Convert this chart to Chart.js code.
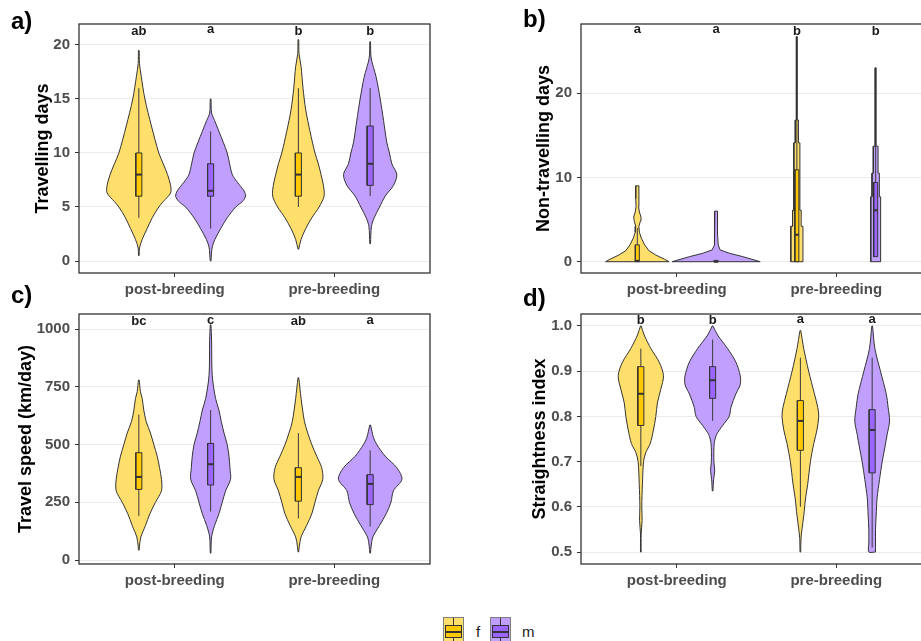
<!DOCTYPE html>
<html>
<head>
<meta charset="utf-8">
<script src="https://cdn.jsdelivr.net/npm/chart.js@4.4.1/dist/chart.umd.min.js"></script>
<style>
  html, body { margin: 0; padding: 0; background: #fff; width: 921px; height: 641px; overflow: hidden; }
  body { position: relative; font-family: "Liberation Sans", Arial, sans-serif; }
  canvas { position: absolute; }
  .plab { position: absolute; font-weight: bold; font-size: 24px; line-height: 24px; color: #000; }
  .key { position: absolute; box-sizing: border-box; width: 21px; height: 26px; border: 1px solid #7f7f7f; }
  .key .vl { position: absolute; left: 9px; top: 0; width: 1px; height: 100%; background: #333; }
  .key .bx { position: absolute; left: 1px; top: 7px; width: 17px; height: 13px; box-sizing: border-box; border: 1px solid #333; }
  .key .md { position: absolute; left: 1px; top: 13px; width: 17px; height: 2px; background: #333; }
  .ktxt { position: absolute; font-size: 15px; color: #1a1a1a; line-height: 16px; }
</style>
</head>
<body>
<canvas id="ca" width="440" height="300" style="left:0px;top:0px"></canvas>
<canvas id="cb" width="480" height="300" style="left:460px;top:0px"></canvas>
<canvas id="cc" width="440" height="310" style="left:0px;top:290px"></canvas>
<canvas id="cd" width="480" height="310" style="left:460px;top:290px"></canvas>
<div class="plab" style="left:11px;top:9px">a)</div>
<div class="plab" style="left:523px;top:7px">b)</div>
<div class="plab" style="left:11px;top:283px">c)</div>
<div class="plab" style="left:523px;top:286px">d)</div>
<div class="key" style="left:443px;top:617px;background:#FFDF6B"><div class="vl"></div><div class="bx" style="background:#FFC800"></div><div class="md"></div></div>
<div class="ktxt" style="left:476px;top:624px">f</div>
<div class="key" style="left:490px;top:617px;background:#C09FFF"><div class="vl"></div><div class="bx" style="background:#9A66FF"></div><div class="md"></div></div>
<div class="ktxt" style="left:522px;top:624px">m</div>
<script>
// ---------- categories ----------
const groups = ['post-breeding', 'pre-breeding'];
const sexes = ['f', 'm', 'f', 'm'];

// ---------- panel a: Travelling days ----------
const a_fPost_y = [0.5, 1.2, 2, 3, 4, 5, 5.5, 6.3, 7, 8, 9, 10, 12.5, 15, 17.1, 18.3, 19.5];
const a_fPost_w = [0.002, 0.004, 0.021, 0.052, 0.084, 0.125, 0.153, 0.199, 0.199, 0.18, 0.153, 0.125, 0.079, 0.038, 0.015, 0.004, 0.002];
const a_mPost_y = [0, 1.3, 2, 3, 4, 5, 5.5, 6, 6.5, 7.3, 8, 9, 10, 11, 12, 13, 13.7, 15];
const a_mPost_w = [0.002, 0.010, 0.027, 0.063, 0.104, 0.157, 0.199, 0.219, 0.209, 0.167, 0.136, 0.119, 0.104, 0.079, 0.052, 0.025, 0.006, 0.002];
const a_fPre_y = [1.1, 2, 3, 4, 5, 6, 7, 8, 9, 10, 12, 14, 16, 18, 19.2, 20.5];
const a_fPre_w = [0.002, 0.017, 0.046, 0.084, 0.130, 0.161, 0.157, 0.142, 0.125, 0.104, 0.073, 0.046, 0.029, 0.017, 0.004, 0.002];
const a_mPre_y = [1.6, 3.2, 4, 5, 6, 7, 8, 9, 10, 11, 13, 15, 17, 18.8, 20.3];
const a_mPre_w = [0.002, 0.008, 0.025, 0.059, 0.094, 0.146, 0.167, 0.136, 0.121, 0.104, 0.084, 0.063, 0.038, 0.006, 0.002];
// box stats: [lower whisker, q1, median, q3, upper whisker]
const a_box = [[4, 6, 8, 10, 16], [3, 6, 6.5, 9, 12], [5, 6, 8, 10, 16], [6, 7, 9, 12.5, 16]];
const a_letters = ['ab', 'a', 'b', 'b'];
const a_letterY = [21.23, 21.45, 21.23, 21.23];
const a_ticks = [0, 5, 10, 15, 20];

// ---------- panel b: Non-travelling days ----------
const b_fPost_y = [0, 0.3, 0.8, 1.3, 2, 2.8, 3.5, 4.2, 4.8, 5.3, 5.9, 6.5, 7.5, 9];
const b_fPost_w = [0.199, 0.17, 0.115, 0.073, 0.046, 0.025, 0.013, 0.010, 0.019, 0.023, 0.013, 0.008, 0.010, 0.010];
const b_mPost_y = [0, 0.2, 0.6, 1.0, 1.4, 2, 3, 4, 5, 6];
const b_mPost_w = [0.276, 0.24, 0.167, 0.084, 0.025, 0.013, 0.010, 0.008, 0.010, 0.008];
const b_fPre_y = [0, 4.2, 4.2, 6.1, 6.1, 14.1, 14.1, 16.8, 16.8, 26.7];
const b_fPre_w = [0.038, 0.038, 0.027, 0.027, 0.019, 0.019, 0.010, 0.010, 0.003, 0.003];
const b_mPre_y = [0, 7.7, 7.7, 10.5, 10.5, 13.7, 13.7, 23];
const b_mPre_w = [0.031, 0.031, 0.023, 0.023, 0.015, 0.015, 0.003, 0.003];
const b_box = [[0, 0, 0.1, 2, 4], [0, 0, 0, 0.15, 0], [0, 0, 3.2, 10.9, 17], [0.6, 0.6, 6.1, 9.4, 14]];
const b_letters = ['a', 'a', 'b', 'b'];
const b_letterY = [27.6, 27.6, 27.3, 27.3];
const b_ticks = [0, 10, 20];

// ---------- panel c: Travel speed ----------
const c_fPost_y = [43, 60, 100, 150, 200, 250, 300, 350, 400, 450, 500, 550, 600, 650, 700, 730, 780];
const c_fPost_w = [0.002, 0.004, 0.013, 0.042, 0.069, 0.104, 0.142, 0.142, 0.130, 0.115, 0.094, 0.073, 0.046, 0.031, 0.021, 0.010, 0.002];
const c_mPost_y = [30, 100, 150, 200, 250, 300, 350, 400, 450, 500, 550, 600, 650, 700, 800, 950, 1019];
const c_mPost_w = [0.002, 0.006, 0.025, 0.052, 0.073, 0.094, 0.125, 0.121, 0.115, 0.104, 0.084, 0.067, 0.052, 0.031, 0.010, 0.006, 0.002];
const c_fPre_y = [35, 60, 100, 150, 200, 250, 300, 350, 400, 450, 500, 550, 600, 700, 790];
const c_fPre_w = [0.002, 0.006, 0.017, 0.052, 0.084, 0.104, 0.125, 0.153, 0.146, 0.115, 0.084, 0.059, 0.038, 0.017, 0.002];
const c_mPre_y = [30, 60, 100, 150, 200, 250, 300, 350, 400, 450, 500, 530, 585];
const c_mPre_w = [0.002, 0.006, 0.017, 0.059, 0.100, 0.130, 0.146, 0.199, 0.167, 0.094, 0.042, 0.021, 0.002];
const c_box = [[190, 306, 360, 465, 630], [210, 325, 415, 505, 650], [180, 255, 360, 400, 550], [145, 240, 330, 370, 475]];
const c_letters = ['bc', 'c', 'ab', 'a'];
const c_letterY = [1033, 1040, 1033, 1040];
const c_ticks = [0, 250, 500, 750, 1000];

// ---------- panel d: Straightness index ----------
const d_fPost_y = [0.5, 0.54, 0.57, 0.60, 0.65, 0.70, 0.72, 0.74, 0.77, 0.80, 0.83, 0.86, 0.89, 0.92, 0.95, 0.98, 1.0];
const d_fPost_w = [0.002, 0.002, 0.008, 0.006, 0.010, 0.017, 0.031, 0.059, 0.079, 0.094, 0.104, 0.125, 0.142, 0.115, 0.063, 0.021, 0.002];
const d_mPost_y = [0.635, 0.66, 0.68, 0.70, 0.74, 0.76, 0.78, 0.80, 0.82, 0.85, 0.87, 0.89, 0.92, 0.95, 0.98, 1.0];
const d_mPost_w = [0.002, 0.006, 0.013, 0.008, 0.010, 0.025, 0.063, 0.104, 0.115, 0.146, 0.173, 0.173, 0.146, 0.094, 0.031, 0.002];
const d_fPre_y = [0.5, 0.53, 0.55, 0.58, 0.62, 0.65, 0.70, 0.74, 0.77, 0.80, 0.82, 0.85, 0.90, 0.95, 0.99];
const d_fPre_w = [0.002, 0.004, 0.010, 0.021, 0.033, 0.046, 0.063, 0.084, 0.104, 0.115, 0.109, 0.088, 0.052, 0.021, 0.002];
const d_mPre_y = [0.5, 0.52, 0.55, 0.58, 0.62, 0.66, 0.70, 0.73, 0.76, 0.79, 0.82, 0.85, 0.90, 0.95, 1.0];
const d_mPre_w = [0.021, 0.021, 0.021, 0.025, 0.031, 0.046, 0.063, 0.079, 0.094, 0.109, 0.100, 0.088, 0.052, 0.017, 0.002];
const d_box = [[0.69, 0.78, 0.85, 0.91, 0.95], [0.79, 0.84, 0.88, 0.91, 0.97], [0.6, 0.725, 0.79, 0.835, 0.93], [0.51, 0.675, 0.77, 0.815, 0.93]];
const d_letters = ['b', 'b', 'a', 'a'];
const d_letterY = [1.0117, 1.0117, 1.0148, 1.0148];
const d_ticks = [0.5, 0.6, 0.7, 0.8, 0.9, 1.0];

// ---------- styles ----------
const FONT = '"Liberation Sans", Arial, sans-serif';
Chart.defaults.font.family = FONT;
const violinFill = { f: '#FFDF6B', m: '#C09FFF' };
const boxFill = { f: '#FFC800', m: '#9A66FF' };
const OUTLINE = '#333333';

function polygon(cx, ys, ws) {
  const pts = [];
  for (let i = 0; i < ys.length; i++) pts.push({ x: cx + ws[i], y: ys[i] });
  for (let i = ys.length - 1; i >= 0; i--) pts.push({ x: cx - ws[i], y: ys[i] });
  pts.push({ x: pts[0].x, y: pts[0].y });
  return pts;
}

function buildPanel(cfg) {
  const cxs = [1 - cfg.off, 1 + cfg.off, 2 - cfg.off, 2 + cfg.off];
  const datasets = [];
  cfg.violins.forEach((v, i) => {
    const s = sexes[i], cx = cxs[i], bw = cfg.boxHW;
    const [lo, q1, med, q3, hi] = cfg.boxes[i];
    datasets.push({ data: polygon(cx, v[0], v[1]), showLine: true, fill: 'shape', tension: cfg.tension,
      backgroundColor: violinFill[s], borderColor: OUTLINE, borderWidth: 1, pointRadius: 0, pointHoverRadius: 0, order: 3 });
    datasets.push({ data: [{ x: cx, y: lo }, { x: cx, y: hi }], showLine: true, fill: false, tension: 0,
      borderColor: '#3a3a3a', borderWidth: 1, pointRadius: 0, pointHoverRadius: 0, order: 2 });
    datasets.push({ data: [{ x: cx - bw, y: q1 }, { x: cx + bw, y: q1 }, { x: cx + bw, y: q3 }, { x: cx - bw, y: q3 }, { x: cx - bw, y: q1 }],
      showLine: true, fill: 'shape', tension: 0, backgroundColor: boxFill[s], borderColor: OUTLINE, borderWidth: 1,
      pointRadius: 0, pointHoverRadius: 0, order: 1 });
    datasets.push({ data: [{ x: cx - bw, y: med }, { x: cx + bw, y: med }], showLine: true, fill: false, tension: 0,
      borderColor: OUTLINE, borderWidth: 2, pointRadius: 0, pointHoverRadius: 0, order: 0 });
  });

  const overlay = {
    id: 'overlay_' + cfg.id,
    afterDatasetsDraw(chart) {
      const { ctx, chartArea: a, scales: { x, y } } = chart;
      ctx.save();
      ctx.strokeStyle = OUTLINE;
      ctx.lineWidth = 1.3;
      ctx.strokeRect(a.left, a.top, a.right - a.left, a.bottom - a.top);
      ctx.font = 'bold 13px ' + FONT;
      ctx.fillStyle = '#1a1a1a';
      ctx.textAlign = 'center';
      ctx.textBaseline = 'middle';
      cfg.letters.forEach((t, i) => ctx.fillText(t, x.getPixelForValue(cxs[i]), y.getPixelForValue(cfg.letterY[i])));
      ctx.restore();
    }
  };

  const tickFont = { size: 15, weight: 'bold', family: FONT };
  new Chart(document.getElementById(cfg.id), {
    type: 'scatter',
    data: { datasets },
    plugins: [overlay],
    options: {
      responsive: false, animation: false, devicePixelRatio: 1,
      events: [],
      layout: { padding: cfg.pad },
      plugins: { legend: { display: false }, tooltip: { enabled: false } },
      scales: {
        x: {
          type: 'linear', min: 0.4, max: 2.6,
          afterBuildTicks: (s) => { s.ticks = [{ value: 1 }, { value: 2 }]; },
          afterFit: (s) => { s.height = cfg.xH; },
          ticks: { callback: (v) => groups[Math.round(v) - 1], font: tickFont, color: '#4D4D4D', padding: 4, maxRotation: 0, autoSkip: false },
          grid: { display: true, drawOnChartArea: false, drawTicks: true, tickLength: 4, tickColor: OUTLINE },
          border: { display: false }
        },
        y: {
          type: 'linear', min: cfg.yMin, max: cfg.yMax,
          afterBuildTicks: (s) => { s.ticks = cfg.yTicks.map(v => ({ value: v })); },
          afterFit: (s) => { s.width = cfg.yW; },
          ticks: { callback: cfg.fmt, font: tickFont, color: '#4D4D4D', padding: 5, autoSkip: false },
          grid: { color: '#EBEBEB', lineWidth: 1, tickLength: 4, tickColor: OUTLINE },
          border: { display: false },
          title: { display: true, text: cfg.yTitle, color: '#000', font: { size: 18, weight: 'bold', family: FONT }, padding: 0 }
        }
      }
    }
  });
}

const intFmt = (v) => String(v);
buildPanel({ id: 'ca', yTitle: 'Travelling days', yMin: -1.11, yMax: 21.94, yTicks: a_ticks, fmt: intFmt,
  off: 0.225, boxHW: 0.019, tension: 0.3,
  violins: [[a_fPost_y, a_fPost_w], [a_mPost_y, a_mPost_w], [a_fPre_y, a_fPre_w], [a_mPre_y, a_mPre_w]],
  boxes: a_box, letters: a_letters, letterY: a_letterY,
  pad: { left: 32, top: 24, right: 10, bottom: 0 }, yW: 47, xH: 27 });
buildPanel({ id: 'cb', yTitle: 'Non-travelling days', yMin: -1.34, yMax: 28.2, yTicks: b_ticks, fmt: intFmt,
  off: 0.247, boxHW: 0.0125, tension: 0,
  violins: [[b_fPost_y, b_fPost_w], [b_mPost_y, b_mPost_w], [b_fPre_y, b_fPre_w], [b_mPre_y, b_mPre_w]],
  boxes: b_box, letters: b_letters, letterY: b_letterY,
  pad: { left: 73, top: 24, right: 8, bottom: 0 }, yW: 48, xH: 27 });
buildPanel({ id: 'cc', yTitle: 'Travel speed (km/day)', yMin: -17.3, yMax: 1066, yTicks: c_ticks, fmt: intFmt,
  off: 0.225, boxHW: 0.019, tension: 0.3,
  violins: [[c_fPost_y, c_fPost_w], [c_mPost_y, c_mPost_w], [c_fPre_y, c_fPre_w], [c_mPre_y, c_mPre_w]],
  boxes: c_box, letters: c_letters, letterY: c_letterY,
  pad: { left: 15, top: 24, right: 10, bottom: 0 }, yW: 64, xH: 36 });
buildPanel({ id: 'cd', yTitle: 'Straightness index', yMin: 0.4735, yMax: 1.0265, yTicks: d_ticks, fmt: (v) => v.toFixed(1),
  off: 0.225, boxHW: 0.019, tension: 0.3,
  violins: [[d_fPost_y, d_fPost_w], [d_mPost_y, d_mPost_w], [d_fPre_y, d_fPre_w], [d_mPre_y, d_mPre_w]],
  boxes: d_box, letters: d_letters, letterY: d_letterY,
  pad: { left: 69, top: 24, right: 8, bottom: 0 }, yW: 52, xH: 36 });
</script>
</body>
</html>
